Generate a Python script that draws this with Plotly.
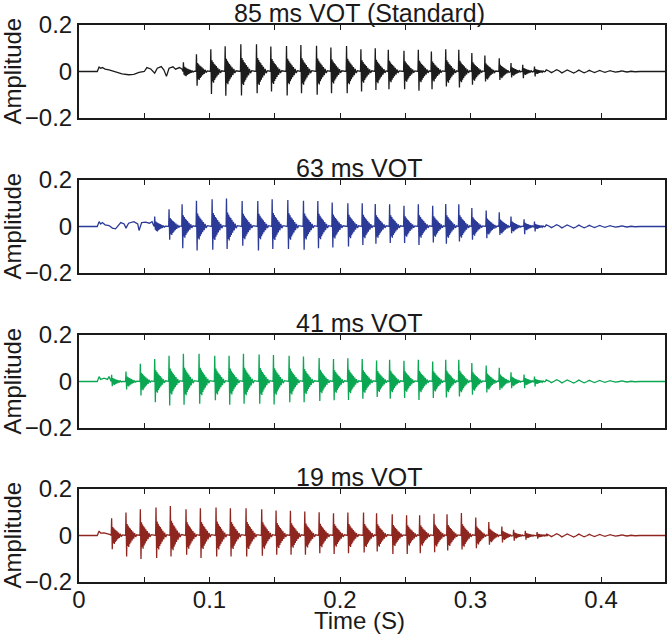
import plotly.graph_objects as go

# ---------------- data ----------------
TITLES = ["85 ms VOT (Standard)", "63 ms VOT", "41 ms VOT", "19 ms VOT"]
COLORS = ["#1c1c1c", "#2b3a96", "#0aa652", "#8e2620"]

# pre-voicing (aspiration) segments: time (s), amplitude
ONSET1_T = [0.000, 0.014, 0.0154, 0.0166, 0.0179, 0.020, 0.023, 0.028, 0.033, 0.038, 0.042, 0.046,
            0.050, 0.052, 0.055, 0.058, 0.060, 0.063, 0.065, 0.067, 0.069, 0.072, 0.074, 0.077, 0.079]
ONSET1_A = [0.000, 0.000, 0.019, 0.014, 0.017, 0.010, 0.007, -0.003, -0.010, -0.014, -0.012, -0.004,
            0.000, 0.017, 0.011, -0.007, 0.014, 0.021, 0.007, -0.021, 0.014, 0.020, 0.010, 0.017, 0.010]
ONSET2_T = [0.000, 0.014, 0.0154, 0.0166, 0.0179, 0.020, 0.023, 0.0256, 0.028, 0.031, 0.032, 0.0346,
            0.036, 0.038, 0.042, 0.045, 0.046, 0.048, 0.051, 0.054, 0.056, 0.057]
ONSET2_A = [0.000, 0.000, 0.021, 0.011, 0.017, 0.007, 0.004, -0.007, -0.010, 0.007, 0.017, 0.011,
            -0.007, 0.014, 0.021, 0.011, -0.017, 0.017, 0.019, 0.014, 0.021, 0.007]
ONSET3_T = [0.000, 0.014, 0.0154, 0.0166, 0.0192, 0.0218, 0.023, 0.024]
ONSET3_A = [0.000, 0.000, 0.021, 0.009, 0.014, 0.009, 0.021, 0.005]
ONSET4_T = [0.000, 0.014, 0.0154, 0.0166, 0.0192, 0.023, 0.024]
ONSET4_A = [0.000, 0.000, 0.019, 0.010, 0.011, 0.007, 0.004]

# glottal pulses: onset time (s), positive peak, negative trough
PULSE1_T = [0.080, 0.090, 0.101, 0.112, 0.124, 0.136, 0.147, 0.159, 0.170, 0.182, 0.193, 0.205, 0.216,
            0.227, 0.237, 0.249, 0.260, 0.270, 0.281, 0.291, 0.301, 0.311, 0.322, 0.331, 0.340, 0.349]
PEAK1 = [0.040, 0.074, 0.096, 0.109, 0.117, 0.117, 0.107, 0.110, 0.114, 0.111, 0.103, 0.110, 0.096,
         0.100, 0.093, 0.089, 0.093, 0.086, 0.096, 0.093, 0.079, 0.069, 0.057, 0.036, 0.029, 0.021]
TROUGH1 = [-0.014, -0.061, -0.097, -0.104, -0.103, -0.093, -0.086, -0.103, -0.093, -0.100, -0.093, -0.093, -0.086,
           -0.079, -0.076, -0.076, -0.083, -0.076, -0.064, -0.069, -0.057, -0.043, -0.036, -0.026, -0.029, -0.021]

PULSE2_T = [0.058, 0.069, 0.079, 0.090, 0.102, 0.113, 0.125, 0.137, 0.148, 0.160, 0.172, 0.183, 0.194, 0.206,
            0.217, 0.227, 0.238, 0.249, 0.260, 0.271, 0.281, 0.291, 0.301, 0.312, 0.322, 0.331, 0.341, 0.349]
PEAK2 = [0.043, 0.074, 0.096, 0.111, 0.117, 0.120, 0.110, 0.110, 0.117, 0.114, 0.111, 0.110, 0.103, 0.100,
         0.100, 0.097, 0.096, 0.089, 0.096, 0.089, 0.097, 0.096, 0.079, 0.069, 0.061, 0.043, 0.031, 0.021]
TROUGH2 = [-0.014, -0.057, -0.093, -0.103, -0.100, -0.097, -0.083, -0.103, -0.097, -0.097, -0.100, -0.093, -0.090, -0.086,
           -0.079, -0.074, -0.071, -0.071, -0.079, -0.069, -0.074, -0.064, -0.057, -0.050, -0.036, -0.029, -0.033, -0.021]

PULSE3_T = [0.025, 0.036, 0.047, 0.058, 0.069, 0.080, 0.092, 0.104, 0.115, 0.126, 0.138, 0.149, 0.161, 0.172, 0.184, 0.195,
            0.206, 0.217, 0.228, 0.238, 0.249, 0.260, 0.271, 0.281, 0.291, 0.301, 0.312, 0.322, 0.331, 0.341, 0.349]
PEAK3 = [0.029, 0.043, 0.076, 0.097, 0.111, 0.119, 0.119, 0.111, 0.111, 0.119, 0.116, 0.114, 0.111, 0.107, 0.101, 0.097,
         0.100, 0.097, 0.090, 0.093, 0.089, 0.093, 0.086, 0.093, 0.093, 0.079, 0.069, 0.059, 0.040, 0.030, 0.021]
TROUGH3 = [-0.020, -0.034, -0.060, -0.089, -0.103, -0.100, -0.096, -0.081, -0.100, -0.096, -0.096, -0.099, -0.089, -0.089,
           -0.084, -0.081, -0.079, -0.074, -0.067, -0.074, -0.071, -0.079, -0.071, -0.069, -0.064, -0.057, -0.047, -0.036,
           -0.029, -0.029, -0.021]

PULSE4_T = [0.025, 0.036, 0.047, 0.059, 0.070, 0.082, 0.093, 0.105, 0.116, 0.128, 0.140, 0.151, 0.162, 0.173, 0.184, 0.195,
            0.206, 0.218, 0.228, 0.240, 0.251, 0.261, 0.272, 0.282, 0.293, 0.304, 0.314, 0.324, 0.333, 0.342, 0.351]
PEAK4 = [0.074, 0.099, 0.113, 0.120, 0.127, 0.113, 0.117, 0.120, 0.117, 0.117, 0.113, 0.107, 0.106, 0.103, 0.100, 0.096,
         0.099, 0.099, 0.096, 0.091, 0.087, 0.087, 0.094, 0.091, 0.097, 0.077, 0.058, 0.039, 0.025, 0.020, 0.015]
TROUGH4 = [-0.059, -0.090, -0.101, -0.097, -0.090, -0.083, -0.097, -0.090, -0.090, -0.090, -0.087, -0.083, -0.083, -0.083,
           -0.076, -0.079, -0.076, -0.073, -0.069, -0.080, -0.080, -0.076, -0.072, -0.065, -0.060, -0.055, -0.040, -0.030,
           -0.022, -0.018, -0.014]

# typical pulse ringing after the trough (ms after pulse onset, fraction of the pulse peak)
RING_OFF_MS = [0.9, 1.3, 1.7, 2.1, 2.5, 2.9, 3.3, 3.7, 4.2, 4.7, 5.3, 5.9, 6.6, 7.4, 8.3]
RING_REL = [0.5, -0.45, 0.42, -0.5, 0.35, -0.38, 0.3, -0.3, 0.24, -0.22, 0.17, -0.14, 0.1, -0.06, 0.03]

# decaying ripples at the end of the vowel
TAIL_T = [0.358, 0.360, 0.362, 0.364, 0.366, 0.368, 0.370, 0.372, 0.374, 0.377, 0.379, 0.381, 0.383, 0.385,
          0.387, 0.389, 0.391, 0.393, 0.395, 0.397, 0.399, 0.401, 0.403, 0.405, 0.407, 0.409, 0.411, 0.414,
          0.416, 0.418, 0.420, 0.423, 0.426, 0.430, 0.436, 0.449]
TAIL_A = [0.007, 0.002, -0.005, 0.001, 0.008, 0.002, -0.006, 0.000, 0.007, -0.001, -0.007, -0.001, 0.006, 0.000,
          -0.006, -0.001, 0.005, 0.000, -0.005, 0.000, 0.005, 0.000, -0.004, 0.000, 0.004, 0.000, -0.003, 0.000,
          0.003, 0.000, -0.002, 0.001, -0.001, 0.000, 0.000, 0.000]

ONSETS = [(ONSET1_T, ONSET1_A), (ONSET2_T, ONSET2_A), (ONSET3_T, ONSET3_A), (ONSET4_T, ONSET4_A)]
PULSES = [(PULSE1_T, PEAK1, TROUGH1), (PULSE2_T, PEAK2, TROUGH2),
          (PULSE3_T, PEAK3, TROUGH3), (PULSE4_T, PEAK4, TROUGH4)]


def waveform(onset, pulses):
    xs, ys = list(onset[0]), list(onset[1])
    for t0, pk, tr in zip(*pulses):
        xs += [t0 - 0.0003, t0, t0 + 0.0005]
        ys += [0.0, pk, tr]
        for off, rel in zip(RING_OFF_MS, RING_REL):
            xs.append(t0 + off / 1000.0)
            ys.append(rel * pk)
    xs += TAIL_T
    ys += TAIL_A
    return xs, ys


# ---------------- figure ----------------
W, H = 668, 634
L, R = 79, 3
PANEL_TOP = [25, 180, 335, 489]
PANEL_H = 93
FONT = "Liberation Sans, Arial, Helvetica, sans-serif"
FS = 24
INK = "#1a1a1a"


def px_x(x):
    return (x - L) / (W - L - R)


def px_y(y):
    return (H - y) / H


fig = go.Figure()
layout = dict(width=W, height=H, margin=dict(l=L, r=R, t=0, b=0, autoexpand=False),
              paper_bgcolor="white", plot_bgcolor="white", showlegend=False,
              font=dict(family=FONT, size=FS, color=INK))
annotations = []
xt_vals = [0, 0.05, 0.1, 0.15, 0.2, 0.25, 0.3, 0.35, 0.4]
xt_text = ["0", "", "0.1", "", "0.2", "", "0.3", "", "0.4"]

for i in range(4):
    xs, ys = waveform(ONSETS[i], PULSES[i])
    sfx = "" if i == 0 else str(i + 1)
    fig.add_trace(go.Scatter(x=xs, y=ys, mode="lines", xaxis="x" + sfx, yaxis="y" + sfx,
                             line=dict(color=COLORS[i], width=1.3), hoverinfo="skip"))
    top = PANEL_TOP[i]
    bot = top + PANEL_H
    dom = [px_y(bot), px_y(top)]
    bottom_panel = (i == 3)
    layout["xaxis" + sfx] = dict(domain=[0, 1], range=[0, 0.449], anchor="y" + sfx, automargin=False,
                                 showline=True, linewidth=2, linecolor=INK, mirror="ticks",
                                 ticks="inside", ticklen=5, tickwidth=1.2, tickcolor=INK,
                                 tickvals=xt_vals, ticktext=xt_text if bottom_panel else [""] * 9,
                                 showticklabels=bottom_panel, showgrid=False, zeroline=False,
                                 ticklabelstandoff=-5,
                                 tickfont=dict(size=FS, family=FONT, color=INK))
    layout["yaxis" + sfx] = dict(domain=dom, range=[-0.2, 0.2], anchor="x" + sfx, automargin=False,
                                 showline=True, linewidth=2, linecolor=INK, mirror=True,
                                 ticks="", tickvals=[-0.2, 0, 0.2], ticktext=["\u22120.2", "0", "0.2"],
                                 showgrid=False, zeroline=False, ticklabelstandoff=0,
                                 tickfont=dict(size=FS, family=FONT, color=INK))
    annotations.append(dict(text=TITLES[i], xref="paper", yref="paper",
                            x=px_x(359), y=px_y(top - 12),
                            showarrow=False, xanchor="center", yanchor="middle",
                            font=dict(size=25, family=FONT, color=INK)))
    annotations.append(dict(text="Amplitude", xref="paper", yref="paper",
                            x=px_x(12), y=px_y(top + PANEL_H / 2),
                            showarrow=False, textangle=-90, xanchor="center", yanchor="middle",
                            font=dict(size=FS, family=FONT, color=INK)))

annotations.append(dict(text="Time (S)", xref="paper", yref="paper",
                        x=px_x(359), y=px_y(620),
                        showarrow=False, xanchor="center", yanchor="middle",
                        font=dict(size=FS, family=FONT, color=INK)))
layout["annotations"] = annotations
fig.update_layout(**layout)
fig.write_html("out.html", config={"displayModeBar": False},
               post_script="document.body.style.margin='0px';")
